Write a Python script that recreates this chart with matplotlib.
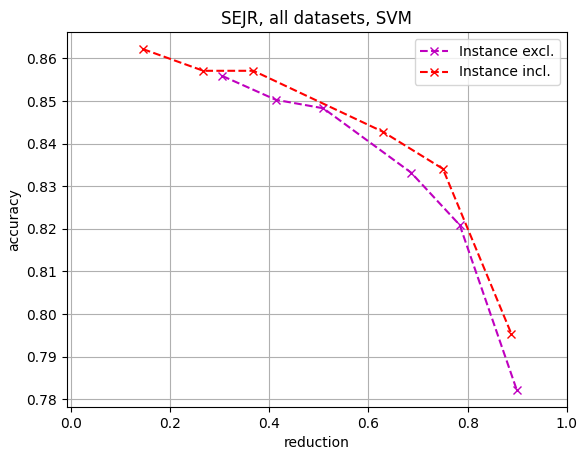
import numpy as np
import matplotlib
matplotlib.use('Agg')
import matplotlib.pyplot as plt

# reduction / accuracy pairs
red_excl = [0.305, 0.413, 0.509, 0.686, 0.784, 0.899]
acc_excl = [0.8559, 0.8503, 0.8483, 0.8332, 0.8209, 0.7822]
red_incl = [0.145, 0.267, 0.368, 0.629, 0.750, 0.888]
acc_incl = [0.8622, 0.8571, 0.8571, 0.8428, 0.8341, 0.7954]

fig = plt.figure(figsize=(5.79, 4.51), dpi=100)
ax = fig.add_subplot(111)
fig.subplots_adjust(left=0.1157, right=0.979, top=0.929, bottom=0.0976)

ax.plot(red_excl, acc_excl, 'mx--', label='Instance excl.')
ax.plot(red_incl, acc_incl, 'rx--', label='Instance incl.')
ax.set_xlim(-0.008, 1.0)
ax.set_xticks(np.arange(0, 1.01, 0.2))
ax.grid(True)
ax.set_xlabel('reduction')
ax.set_ylabel('accuracy')
ax.set_title('SEJR, all datasets, SVM')
ax.legend(loc='upper right')

plt.savefig('out.png', dpi=100)
